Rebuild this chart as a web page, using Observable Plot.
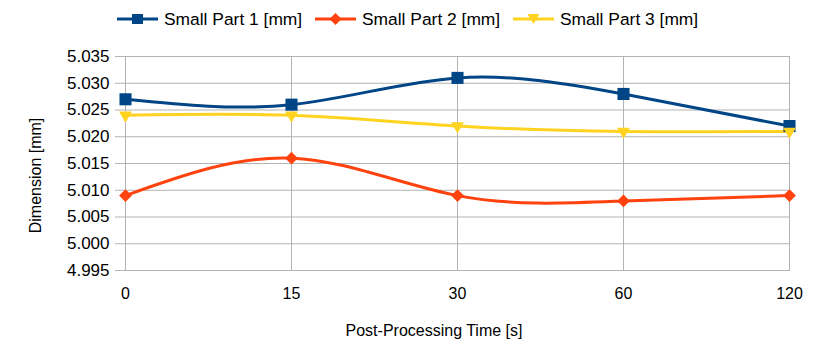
<!DOCTYPE html>
<html><head><meta charset="utf-8">
<script src="https://cdn.jsdelivr.net/npm/d3@7"></script>
<script src="https://cdn.jsdelivr.net/npm/@observablehq/plot@0.6"></script>
<style>
body{margin:0;background:#fff;font-family:"Liberation Sans",Arial,sans-serif;}
#legend{height:36px;position:relative;width:817px;}
.item{position:absolute;top:9px;height:20px;line-height:20px;display:flex;align-items:center;font-size:17.4px;color:#000;white-space:nowrap;}
.item svg{margin-right:6px;display:block;}
</style></head><body>
<div id="legend"></div>
<div id="chart"></div>
<script>
const times = ["0", "15", "30", "60", "120"];
const seriesNames = ["Small Part 1 [mm]", "Small Part 2 [mm]", "Small Part 3 [mm]"];
const part1 = [5.027, 5.026, 5.031, 5.028, 5.022];
const part2 = [5.009, 5.016, 5.009, 5.008, 5.009];
const part3 = [5.024, 5.024, 5.022, 5.021, 5.021];
const yTicks = [4.995, 5.000, 5.005, 5.010, 5.015, 5.020, 5.025, 5.030, 5.035];
const colors = ["#004586", "#ff420e", "#ffd320"];
const xTitle = "Post-Processing Time [s]";
const yTitle = "Dimension [mm]";

const seriesVals = [part1, part2, part3];
const data = [];
seriesNames.forEach((s, i) => times.forEach((t, j) => data.push({series: s, time: t, value: seriesVals[i][j]})));

// legend
const legend = document.getElementById("legend");
const lefts = [117, 315, 513];
const markerSvg = [
  '<rect x="15" y="3" width="11" height="10" fill="#004586"/>',
  '<path d="M20.5 2 L26.5 8 L20.5 14 L14.5 8 Z" fill="#ff420e"/>',
  '<path d="M14.5 3 L26.5 3 L20.5 13 Z" fill="#ffd320"/>'
];
seriesNames.forEach((s, i) => {
  const d = document.createElement("div");
  d.className = "item";
  d.style.left = lefts[i] + "px";
  d.innerHTML = `<svg width="41" height="16"><line x1="0" x2="41" y1="8" y2="8" stroke="${colors[i]}" stroke-width="3"/>${markerSvg[i]}</svg><span>${s}</span>`;
  legend.appendChild(d);
});

const fmt = d3.format(".3f");
const chart = Plot.plot({
  width: 817, height: 319,
  marginTop: 20, marginBottom: 85, marginLeft: 123, marginRight: 27,
  style: {fontFamily: "Liberation Sans, Arial, sans-serif", fontSize: "16px", color: "#000", background: "#fff"},
  x: {type: "point", domain: times, padding: 0},
  y: {domain: [4.995, 5.035]},
  color: {domain: seriesNames, range: colors},
  marks: [
    Plot.gridY(yTicks, {stroke: "#b3b3b3", strokeOpacity: 1}),
    Plot.gridX(times, {stroke: "#b3b3b3", strokeOpacity: 1}),
    Plot.axisY(yTicks, {tickSize: 8, tickPadding: 6, stroke: "#b3b3b3", fill: "#000", tickFormat: fmt, fontSize: 17, label: null}),
    Plot.axisX(times, {tickSize: 0, tickPadding: 17, fill: "#000", fontSize: 16, label: null}),
    Plot.text([xTitle], {frameAnchor: "bottom", textAnchor: "middle", dx: -23, dy: 65, fontSize: 16, fill: "#000"}),
    Plot.text([yTitle], {frameAnchor: "left", textAnchor: "middle", rotate: -90, dx: -88, dy: 12, fontSize: 16, fill: "#000"}),
    Plot.line(data, {x: "time", y: "value", z: "series", stroke: "series", strokeWidth: 3, curve: "natural"}),
    Plot.dot(data.filter(d => d.series === seriesNames[0]), {x: "time", y: "value", fill: colors[0], symbol: "square", r: 6.8}),
    Plot.dot(data.filter(d => d.series === seriesNames[1]), {x: "time", y: "value", fill: colors[1], symbol: "square", r: 5.1, rotate: 45}),
    Plot.dot(data.filter(d => d.series === seriesNames[2]), {x: "time", y: "value", fill: colors[2], symbol: "triangle", r: 4.8, rotate: 180})
  ]
});
document.getElementById("chart").appendChild(chart);
</script>
</body></html>
